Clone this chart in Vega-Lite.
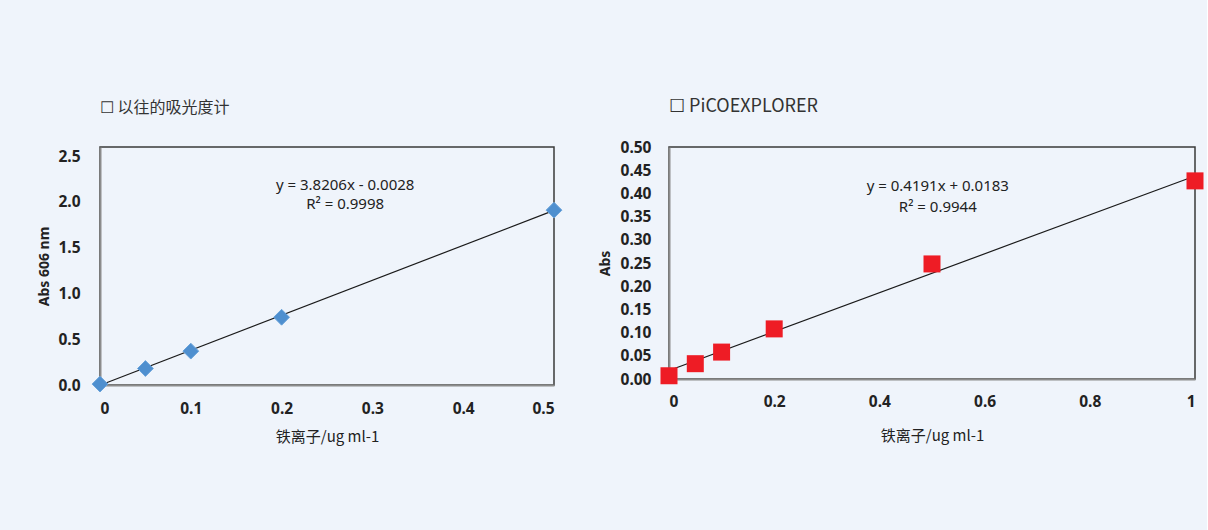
{
  "$schema": "https://vega.github.io/schema/vega-lite/v6.json",
  "background": "#eff4fb",
  "padding": {"left": 37, "top": 97, "right": 2, "bottom": 84},
  "spacing": 32,
  "config": {
    "font": "Noto Sans CJK SC",
    "view": {"stroke": "#3a3a3a", "strokeWidth": 1.5},
    "axis": {
      "grid": false,
      "ticks": false,
      "labelOverlap": false,
      "domainColor": "#8c8c8c",
      "domainWidth": 2,
      "labelFont": "Noto Sans",
      "labelFontSize": 15.5,
      "labelFontWeight": "bold",
      "labelColor": "#222222",
      "titleColor": "#222222"
    },
    "title": {"anchor": "start", "frame": "group", "fontSize": 16, "fontWeight": "normal", "color": "#333333", "offset": 31, "font": "Noto Sans CJK SC"}
  },
  "datasets": {
    "left_pts": [
      {"x": 0, "y": 0.01},
      {"x": 0.05, "y": 0.18},
      {"x": 0.1, "y": 0.37},
      {"x": 0.2, "y": 0.74},
      {"x": 0.5, "y": 1.91}
    ],
    "left_fit": [
      {"x": 0, "y": -0.0028},
      {"x": 0.5, "y": 1.9075}
    ],
    "left_eq": [
      {"x": 0.27, "y": 2.185, "t": "y = 3.8206x - 0.0028"},
      {"x": 0.27, "y": 1.975, "t": "R² = 0.9998"}
    ],
    "right_pts": [
      {"x": 0, "y": 0.007},
      {"x": 0.05, "y": 0.033},
      {"x": 0.1, "y": 0.058},
      {"x": 0.2, "y": 0.108},
      {"x": 0.5, "y": 0.248},
      {"x": 1, "y": 0.427}
    ],
    "right_fit": [
      {"x": 0, "y": 0.0183},
      {"x": 1, "y": 0.4374}
    ],
    "right_eq": [
      {"x": 0.511, "y": 0.416, "t": "y = 0.4191x + 0.0183"},
      {"x": 0.511, "y": 0.371, "t": "R² = 0.9944"}
    ]
  },
  "hconcat": [
    {
      "title": {"text": "☐ 以往的吸光度计"},
      "width": 454,
      "height": 238,
      "layer": [
        {
          "data": {"name": "left_fit"},
          "mark": {"type": "line", "color": "#1a1a1a", "strokeWidth": 1.2},
          "encoding": {
            "x": {"field": "x", "type": "quantitative", "scale": {"domain": [0, 0.5]},
              "axis": {"values": [0, 0.1, 0.2, 0.3, 0.4, 0.5], "tickCount": 6, "labelOverlap": false, "labelExpr": "datum.value == 0 ? '0' : format(datum.value, '.1f')", "labelPadding": 16, "title": "铁离子/ug ml-1", "titleFontSize": 15, "titleFontWeight": "normal", "titlePadding": 13}},
            "y": {"field": "y", "type": "quantitative", "scale": {"domain": [0, 2.5]},
              "axis": {"values": [0, 0.5, 1, 1.5, 2, 2.5], "tickCount": 6, "labelOverlap": false, "format": ".1f", "labelPadding": 20, "title": "Abs 606 nm", "titleFontSize": 14, "titleFontWeight": "bold", "titlePadding": 6, "titleFont": "Noto Sans"}}
          }
        },
        {
          "data": {"name": "left_pts"},
          "mark": {"type": "point", "shape": "diamond", "filled": true, "size": 250, "color": "#4e8fcf", "opacity": 1, "stroke": "#6aa3da", "strokeWidth": 1},
          "encoding": {
            "x": {"field": "x", "type": "quantitative"},
            "y": {"field": "y", "type": "quantitative"}
          }
        },
        {
          "data": {"name": "left_eq"},
          "mark": {"type": "text", "fontSize": 15, "color": "#222222", "font": "Noto Sans"},
          "encoding": {
            "x": {"field": "x", "type": "quantitative"},
            "y": {"field": "y", "type": "quantitative"},
            "text": {"field": "t"}
          }
        }
      ]
    },
    {
      "title": {"text": "☐ PiCOEXPLORER", "fontSize": 18, "offset": 24},
      "width": 526,
      "height": 232,
      "layer": [
        {
          "data": {"name": "right_fit"},
          "mark": {"type": "line", "color": "#1a1a1a", "strokeWidth": 1.2},
          "encoding": {
            "x": {"field": "x", "type": "quantitative", "scale": {"domain": [0, 1]},
              "axis": {"values": [0, 0.2, 0.4, 0.6, 0.8, 1], "tickCount": 6, "labelOverlap": false, "format": "~g", "labelPadding": 15, "title": "铁离子/ug ml-1", "titleFontSize": 15, "titleFontWeight": "normal", "titlePadding": 19}},
            "y": {"field": "y", "type": "quantitative", "scale": {"domain": [0, 0.5]},
              "axis": {"values": [0, 0.05, 0.1, 0.15, 0.2, 0.25, 0.3, 0.35, 0.4, 0.45, 0.5], "tickCount": 11, "labelOverlap": false, "format": ".2f", "labelPadding": 18, "title": "Abs", "titleFontSize": 14, "titleFontWeight": "bold", "titlePadding": 8, "titleFont": "Noto Sans"}}
          }
        },
        {
          "data": {"name": "right_pts"},
          "mark": {"type": "point", "shape": "square", "filled": true, "size": 289, "color": "#ee1c25", "opacity": 1},
          "encoding": {
            "x": {"field": "x", "type": "quantitative"},
            "y": {"field": "y", "type": "quantitative"}
          }
        },
        {
          "data": {"name": "right_eq"},
          "mark": {"type": "text", "fontSize": 15, "color": "#222222", "font": "Noto Sans"},
          "encoding": {
            "x": {"field": "x", "type": "quantitative"},
            "y": {"field": "y", "type": "quantitative"},
            "text": {"field": "t"}
          }
        }
      ]
    }
  ]
}
